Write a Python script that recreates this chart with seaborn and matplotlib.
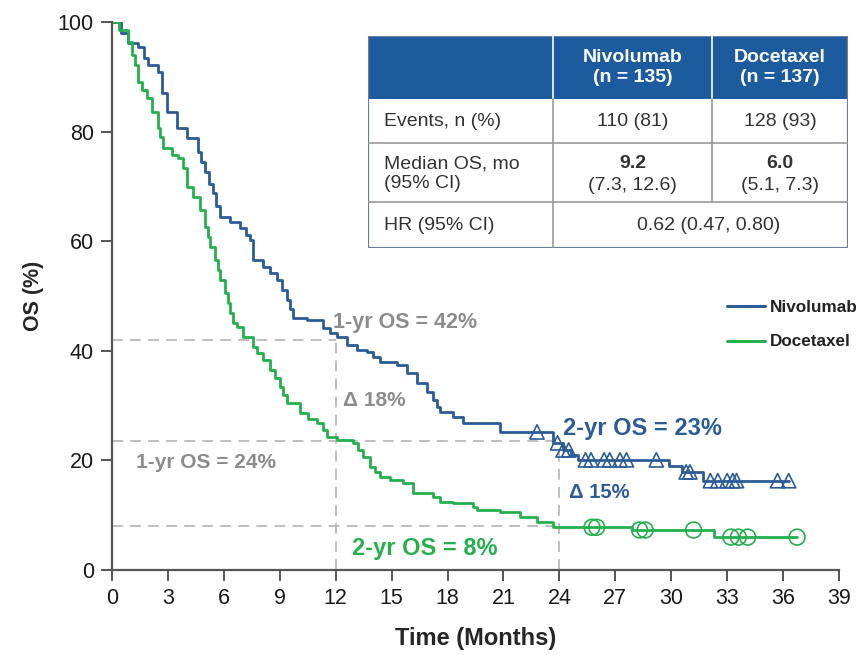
import numpy as np
import pandas as pd
import matplotlib
matplotlib.use("Agg")
import matplotlib.pyplot as plt
from matplotlib.patches import Rectangle
import seaborn as sns

# Kaplan-Meier step estimates (months, OS %)
nivo_t = [0, 0.5, 0.86, 1.39, 1.7, 1.93, 2.47, 2.7, 2.95, 3.49, 4.02, 4.61, 4.8, 4.99,
          5.2, 5.42, 5.6, 5.79, 6.33, 6.87, 7.2, 7.4, 7.56, 8.1, 8.5, 8.85, 9.1, 9.39,
          9.55, 9.71, 10.46, 11.32, 11.7, 12.07, 12.6, 13.14, 13.68, 14.0, 14.38, 15.29,
          15.83, 16.36, 16.9, 17.2, 17.44, 17.6, 18.29, 18.83, 20.82, 23.66, 24.2, 24.6,
          25.0, 29.9, 30.6, 31.7, 36.3]
nivo_s = [100, 98, 96.2, 95.4, 93.5, 92.2, 90.9, 87, 83.6, 80.7, 78.8, 76.3, 74.5, 72.6,
          70.5, 68.8, 66.5, 64.4, 63.5, 62.4, 61.2, 60.2, 56.6, 55.3, 54.2, 52.9, 51.1, 49.3,
          47.6, 46.0, 45.6, 44.2, 43.3, 42.5, 41.1, 40.1, 39.8, 38.9, 38.0, 37.4,
          35.9, 34.1, 32.5, 31.0, 29.7, 28.8, 27.9, 26.8, 25.2, 23.2, 21.9, 21.0,
          20.1, 19.0, 17.9, 16.3, 16.3]

doce_t = [0, 0.4, 0.86, 1.05, 1.23, 1.39, 1.6, 1.88, 2.15, 2.47, 2.6, 2.74, 3.22, 3.54,
          3.81, 4.02, 4.35, 4.72, 4.99, 5.13, 5.26, 5.53, 5.66, 5.79, 6.06, 6.2, 6.33,
          6.49, 6.71, 7.03, 7.56, 7.78, 8.1, 8.48, 8.75, 9.01, 9.2, 9.39, 10.09, 10.5,
          11.0, 11.3, 11.53, 12.07, 12.93, 13.2, 13.47, 13.84, 14.1, 14.38, 14.91, 15.61,
          16.15, 17.22, 17.6, 18.29, 19.37, 19.58, 20.82, 21.89, 22.8, 23.66, 27.9, 32.3,
          36.75]
doce_s = [100, 98.5, 96.4, 94, 92.2, 89.1, 87.5, 86.1, 83.6, 80.7, 79, 77.0, 75.7, 75.2,
          73.4, 69.8, 68.1, 65.7, 62.6, 60.8, 58.9, 56.6, 54.7, 52.9, 50.5, 48.7, 46.9,
          45.1, 44.3, 42.5, 40.7, 39.6, 38.3, 36.5, 35.0, 33.4, 32.0, 30.5, 28.6, 27.6,
          26.8, 25.5, 24.3, 23.7, 23.2, 21.9, 20.6, 18.8, 17.8, 17.0, 16.4, 15.9,
          14.1, 13.3, 12.4, 12.2, 11.5, 10.9, 10.6, 9.7, 8.8, 7.8, 7.3, 6.0,
          6.0]

# Censored observations (months)
nivo_cens = [22.8, 23.9, 24.2, 24.5, 25.4, 25.7, 26.4, 26.7, 27.25, 27.6, 29.2, 30.8,
             31.0, 32.1, 32.5, 33.0, 33.3, 33.5, 35.7, 36.3]
doce_cens = [25.75, 26.0, 28.3, 28.6, 31.2, 33.2, 33.6, 34.1, 36.75]

arms = ["Nivolumab", "Docetaxel"]
colors = {"Nivolumab": "#2b5c98", "Docetaxel": "#25b04e"}

x_ticks = list(range(0, 40, 3))
y_ticks = [0, 20, 40, 60, 80, 100]

# Table contents
tbl_cols = ["", "Nivolumab\n(n = 135)", "Docetaxel\n(n = 137)"]
tbl_events = ["Events, n (%)", "110 (81)", "128 (93)"]
tbl_median_label = "Median OS, mo\n(95% CI)"
tbl_median = [("9.2", "(7.3, 12.6)"), ("6.0", "(5.1, 7.3)")]
tbl_hr = ["HR (95% CI)", "0.62 (0.47, 0.80)"]


def step_value(times, surv, t):
    idx = np.searchsorted(times, t, side="right") - 1
    return np.asarray(surv)[idx]


sns.set_style("ticks")
plt.rcParams["font.family"] = ["Liberation Sans", "DejaVu Sans"]

fig = plt.figure(figsize=(8.6, 6.55), dpi=100)
ax = fig.add_axes([112 / 860, 85 / 655, 727 / 860, 548 / 655])

km = pd.concat([
    pd.DataFrame({"Month": nivo_t, "OS": nivo_s, "Arm": "Nivolumab"}),
    pd.DataFrame({"Month": doce_t, "OS": doce_s, "Arm": "Docetaxel"}),
])
sns.lineplot(data=km, x="Month", y="OS", hue="Arm", hue_order=arms, palette=colors,
             drawstyle="steps-post", estimator=None, sort=False, linewidth=2.0, ax=ax)

cens_n = pd.DataFrame({"Month": nivo_cens,
                       "OS": step_value(nivo_t, nivo_s, np.array(nivo_cens))})
cens_d = pd.DataFrame({"Month": doce_cens,
                       "OS": step_value(doce_t, doce_s, np.array(doce_cens))})
sns.scatterplot(data=cens_n, x="Month", y="OS", marker="^", s=105, facecolors="none",
                edgecolor=colors["Nivolumab"], linewidth=1.2, ax=ax, legend=False, zorder=4)
sns.scatterplot(data=cens_d, x="Month", y="OS", marker="o", s=130, facecolors="none",
                edgecolor=colors["Docetaxel"], linewidth=1.2, ax=ax, legend=False, zorder=4)

# Landmark reference lines
ref = dict(color="#b9b9b9", lw=1.3, dashes=(6, 4), zorder=1)
ax.plot([0, 12], [42, 42], **ref)
ax.plot([0, 24], [23.5, 23.5], **ref)
ax.plot([0, 24], [8, 8], **ref)
ax.plot([12, 12], [0, 42], **ref)
ax.plot([24, 24], [0, 23], **ref)

gray = "#8c8c8c"
ax.text(11.85, 45.1, "1-yr OS = 42%", color=gray, fontsize=15.5, fontweight="bold",
        ha="left", va="center")
ax.text(12.4, 31.0, "Δ 18%", color=gray, fontsize=15, fontweight="bold",
        ha="left", va="center")
ax.text(1.3, 19.6, "1-yr OS = 24%", color=gray, fontsize=15, fontweight="bold",
        ha="left", va="center")
ax.text(24.2, 25.8, "2-yr OS = 23%", color=colors["Nivolumab"], fontsize=17,
        fontweight="bold", ha="left", va="center")
ax.text(24.5, 14.2, "Δ 15%", color=colors["Nivolumab"], fontsize=14.5, fontweight="bold",
        ha="left", va="center")
ax.text(12.9, 3.9, "2-yr OS = 8%", color=colors["Docetaxel"], fontsize=17,
        fontweight="bold", ha="left", va="center")

ax.set_xlim(0, 39)
ax.set_ylim(0, 100)
ax.set_xticks(x_ticks)
ax.set_yticks(y_ticks)
ax.tick_params(axis="both", length=8, width=1.4, color="#555555", labelsize=15.5,
               labelcolor="#1a1a1a", pad=5)
for side in ["left", "bottom"]:
    ax.spines[side].set_linewidth(1.6)
    ax.spines[side].set_color("#555555")
sns.despine(ax=ax)
ax.set_xlabel("Time (Months)", fontsize=17, fontweight="bold", labelpad=13)
ax.set_ylabel("OS (%)", fontsize=15.5, fontweight="bold", labelpad=10)

leg = ax.legend(loc="upper left", bbox_to_anchor=(0.846, 0.493), frameon=False,
                fontsize=12.3, handlelength=2.2, labelspacing=1.15, handletextpad=0.3,
                borderaxespad=0, borderpad=0)
for txt in leg.get_texts():
    txt.set_fontweight("bold")
    txt.set_color("#222222")
for ln in leg.get_lines():
    ln.set_linewidth(2.2)

# Summary table drawn in pixel coordinates
tax = fig.add_axes([368 / 860, (655 - 248) / 655, 480 / 860, 212 / 655])
tax.set_xlim(0, 480)
tax.set_ylim(212, 0)
tax.axis("off")
header_blue = "#1c5c9e"
line_gray = "#9a9a9a"
col_x = [0, 185, 344, 480]
row_y = [0, 63, 107, 166, 212]
tax.add_patch(Rectangle((0, 0), 480, 63, facecolor=header_blue, edgecolor="none"))
tax.plot([185, 185], [0, 63], color="white", lw=1.2)
tax.plot([344, 344], [0, 63], color="white", lw=1.2)
for y in row_y[2:4]:
    tax.plot([0, 480], [y, y], color=line_gray, lw=1.2)
for x in col_x[1:3]:
    tax.plot([x, x], [63, 166], color=line_gray, lw=1.2)
tax.plot([185, 185], [166, 212], color=line_gray, lw=1.2)
tax.add_patch(Rectangle((0, 0), 480, 212, facecolor="none", edgecolor="#6d7f93", lw=1.6))

txt_col = "#333333"
fs = 14
tax.text(264.5, 31.5, tbl_cols[1], color="white", fontsize=14, fontweight="bold",
         ha="center", va="center", linespacing=1.2)
tax.text(412, 31.5, tbl_cols[2], color="white", fontsize=14, fontweight="bold",
         ha="center", va="center", linespacing=1.2)
tax.text(16, 85, tbl_events[0], color=txt_col, fontsize=fs, ha="left", va="center")
tax.text(264.5, 85, tbl_events[1], color=txt_col, fontsize=fs, ha="center", va="center")
tax.text(412, 85, tbl_events[2], color=txt_col, fontsize=fs, ha="center", va="center")
tax.text(16, 138, tbl_median_label, color=txt_col, fontsize=fs, ha="left",
         va="center", linespacing=1.2)
for cx, (med, ci) in zip([264.5, 412], tbl_median):
    tax.text(cx, 127, med, color=txt_col, fontsize=fs, fontweight="bold",
             ha="center", va="center")
    tax.text(cx, 150, ci, color=txt_col, fontsize=fs, ha="center", va="center")
tax.text(16, 189, tbl_hr[0], color=txt_col, fontsize=fs, ha="left", va="center")
tax.text(341, 189, tbl_hr[1], color=txt_col, fontsize=fs, ha="center", va="center")

fig.savefig("out.png", dpi=100)
